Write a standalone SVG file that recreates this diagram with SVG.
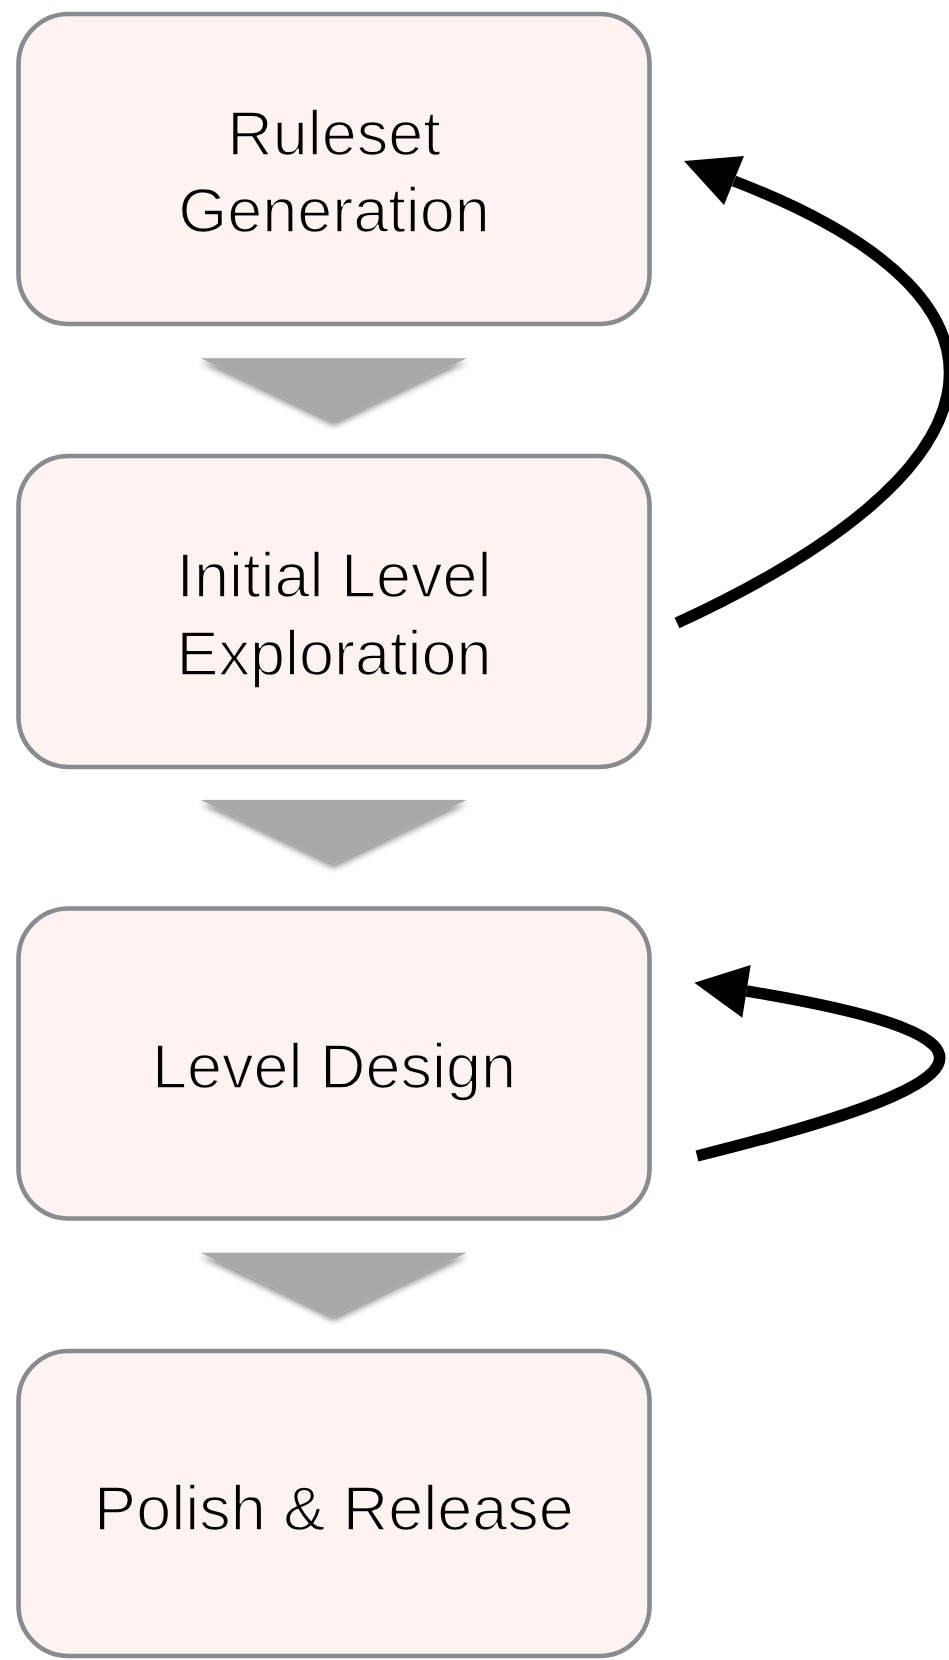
<svg xmlns="http://www.w3.org/2000/svg" width="949" height="1660" viewBox="0 0 949 1660">
  <defs>
    <filter id="tri-shadow" x="-20%" y="-30%" width="140%" height="180%">
      <feDropShadow dx="0" dy="4" stdDeviation="3" flood-color="#000" flood-opacity="0.45"/>
    </filter>
  </defs>
  <style>
    .step { fill: #fdf4f2; stroke: #888b8f; stroke-width: 4.6; }
    .label { font-family: "Liberation Sans", Arial, Helvetica, sans-serif; font-size: 63px; fill: #000;
             text-anchor: middle; stroke: #fdf4f2; stroke-width: 1.6; stroke-linejoin: round; }
    .flow { fill: #a7aaa8; filter: url(#tri-shadow); }
    .loop { fill: none; stroke: #000; stroke-width: 11.5; stroke-linecap: butt; }
    .loop-head { fill: #000; }
  </style>

  <rect width="949" height="1660" fill="#fff"/>

  <!-- step boxes -->
  <g id="ruleset-generation">
    <rect class="step" x="18.5" y="14" width="631" height="310" rx="50" ry="50"/>
    <text class="label" x="334" y="155">Ruleset</text>
    <text class="label" x="334" y="232">Generation</text>
  </g>

  <g id="initial-level-exploration">
    <rect class="step" x="18.5" y="456" width="631" height="311" rx="50" ry="50"/>
    <text class="label" x="334" y="597">Initial Level</text>
    <text class="label" x="334" y="675">Exploration</text>
  </g>

  <g id="level-design">
    <rect class="step" x="18.5" y="908.5" width="631" height="310" rx="50" ry="50"/>
    <text class="label" x="334" y="1088">Level Design</text>
  </g>

  <g id="polish-release">
    <rect class="step" x="18.5" y="1351" width="631" height="305" rx="50" ry="50"/>
    <text class="label" x="334" y="1530">Polish &amp; Release</text>
  </g>

  <!-- connectors: downward flow chevrons and feedback loops -->
  <g id="connectors">
    <polygon class="flow" points="200.7,358.3 466.7,358.3 334,421.7"/>
    <polygon class="flow" points="200.7,800 466.7,800 334,864"/>
    <polygon class="flow" points="200.7,1252.7 466.7,1252.7 334,1316.7"/>

    <!-- exploration back to ruleset generation -->
    <path class="loop" d="M677,623 C996,476 1060,307 734,181"/>
    <polygon class="loop-head" points="684,161 744,156 724,205"/>

    <!-- level design iterating on itself -->
    <path class="loop" d="M697,1156 C983,1085 1037,1039 746.5,991"/>
    <polygon class="loop-head" points="694.3,982.7 750.7,965 742.3,1017.7"/>
  </g>
</svg>
